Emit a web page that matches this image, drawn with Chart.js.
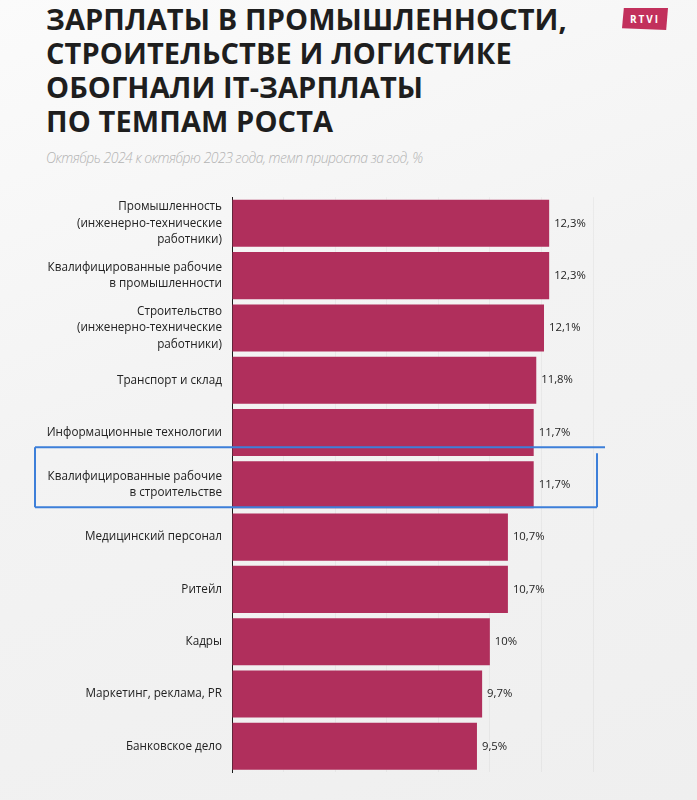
<!DOCTYPE html>
<html><head><meta charset="utf-8">
<script src="https://cdn.jsdelivr.net/npm/chart.js@4"></script>
<style>
html,body{margin:0;padding:0;}
body{width:697px;height:800px;position:relative;overflow:hidden;background:linear-gradient(160deg,#fbfbfb 0%,#f3f3f3 45%,#efefef 100%);font-family:"Open Sans",sans-serif;}
#title{position:absolute;left:46px;top:2px;font-family:"Open Sans",sans-serif;font-weight:700;font-size:29px;line-height:34px;color:#1e1e1e;letter-spacing:0.1px;}
#sub{position:absolute;left:46px;top:148px;font-style:italic;font-weight:300;font-size:14px;letter-spacing:-0.5px;color:#b4b4b4;}
#logo{position:absolute;left:622px;top:8px;width:46px;height:22px;background:#c2305c;color:#fff;font-size:10px;font-weight:700;letter-spacing:2px;text-align:center;line-height:22px;clip-path:polygon(4% 0,100% 0,96% 100%,0 92%);}
#wrap{position:absolute;left:0;top:179px;width:697px;height:628px;}
</style></head>
<body>
<div id="title">ЗАРПЛАТЫ В ПРОМЫШЛЕННОСТИ,<br>СТРОИТЕЛЬСТВЕ И ЛОГИСТИКЕ<br>ОБОГНАЛИ IT-ЗАРПЛАТЫ<br>ПО ТЕМПАМ РОСТА</div>
<div id="sub">Октябрь 2024 к октябрю 2023 года, темп прироста за год, %</div>
<div id="logo">RTVI</div>
<div id="wrap"><canvas id="c" width="697" height="628"></canvas></div>
<script>
const categories = [
  ["Промышленность","(инженерно-технические","работники)"],
  ["Квалифицированные рабочие","в промышленности"],
  ["Строительство","(инженерно-технические","работники)"],
  "Транспорт и склад",
  "Информационные технологии",
  ["Квалифицированные рабочие","в строительстве"],
  "Медицинский персонал",
  "Ритейл",
  "Кадры",
  "Маркетинг, реклама, PR",
  "Банковское дело"
];
const values = [12.3, 12.3, 12.1, 11.8, 11.7, 11.7, 10.7, 10.7, 10.0, 9.7, 9.5];
const valueLabels = ["12,3%","12,3%","12,1%","11,8%","11,7%","11,7%","10,7%","10,7%","10%","9,7%","9,5%"];
const highlightIndex = 5;

const valuePlugin = {
  id:'vals',
  afterDatasetsDraw(chart){
    const ctx = chart.ctx;
    const meta = chart.getDatasetMeta(0);
    ctx.save();
    ctx.font = '11.3px "Open Sans", sans-serif';
    ctx.fillStyle = '#1e1e1e';
    ctx.textBaseline = 'middle';
    ctx.textAlign = 'left';
    meta.data.forEach((bar,i)=>{
      ctx.fillText(valueLabels[i], bar.x + 5, bar.y);
    });
    ctx.restore();
  }
};
const boxPlugin = {
  id:'box',
  afterDraw(chart){
    const y = chart.scales.y;
    const step = y.getPixelForValue(1) - y.getPixelForValue(0);
    const c = y.getPixelForValue(highlightIndex);
    const top = c - step*0.72, bot = c + step*0.43;
    const left = 35, right = chart.chartArea.right + 4;
    const ctx = chart.ctx;
    ctx.save();
    ctx.strokeStyle = '#3d7fd9';
    ctx.lineWidth = 2;
    ctx.beginPath();
    ctx.moveTo(left, top); ctx.lineTo(right + 8, top);
    ctx.moveTo(left, top); ctx.lineTo(left, bot);
    ctx.moveTo(left, bot); ctx.lineTo(right, bot);
    ctx.moveTo(right, top + 6); ctx.lineTo(right, bot);
    ctx.stroke();
    ctx.restore();
  }
};

new Chart(document.getElementById('c'), {
  type:'bar',
  data:{labels:categories, datasets:[{data:values, backgroundColor:'#b02f5c', borderWidth:0, barPercentage:0.9, categoryPercentage:1.0}]},
  options:{
    indexAxis:'y',
    responsive:false,
    animation:false,
    layout:{padding:{top:16,right:104,bottom:19,left:0}},
    plugins:{legend:{display:false}, tooltip:{enabled:false}},
    scales:{
      x:{min:0,max:14,
         ticks:{display:false, stepSize:2},
         grid:{color:'rgba(0,0,0,0.04)', drawTicks:false},
         border:{display:false}},
      y:{
         afterFit(s){ s.width = 232; },
         grid:{display:false, drawTicks:false, tickLength:0},
         border:{display:true,color:'#1a1a1a',width:1},
         ticks:{color:'#222', padding:10, font:{family:'"Open Sans", sans-serif', size:11.7, lineHeight:1.4}}
      }
    }
  },
  plugins:[valuePlugin, boxPlugin]
});
</script>
</body></html>
